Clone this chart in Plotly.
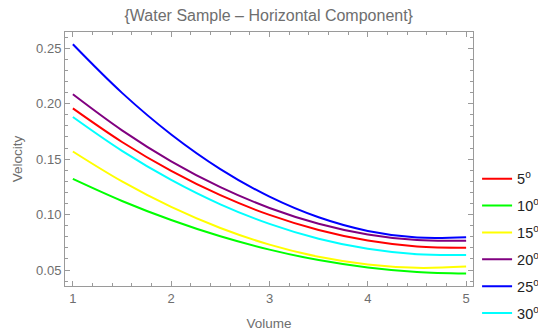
import plotly.graph_objects as go

volume = [1.0, 1.5, 2.0, 2.5, 3.0, 3.5, 4.0, 4.5, 5.0]

v_5 = [0.1958, 0.1655, 0.1394, 0.1175, 0.0997, 0.0861, 0.0766, 0.0713, 0.0702]
v_10 = [0.1322, 0.1123, 0.0951, 0.0804, 0.0684, 0.0590, 0.0523, 0.0482, 0.0468]
v_15 = [0.1569, 0.1299, 0.1069, 0.0879, 0.0729, 0.0619, 0.0550, 0.0520, 0.0531]
v_20 = [0.2085, 0.1760, 0.1481, 0.1248, 0.1060, 0.0918, 0.0821, 0.0770, 0.0765]
v_25 = [0.2536, 0.2098, 0.1723, 0.1411, 0.1162, 0.0976, 0.0853, 0.0793, 0.0795]
v_30 = [0.1880, 0.1575, 0.1313, 0.1093, 0.0916, 0.0782, 0.0691, 0.0642, 0.0636]

labels = ["5<sup>o</sup>", "10<sup>o</sup>", "15<sup>o</sup>", "20<sup>o</sup>", "25<sup>o</sup>", "30<sup>o</sup>"]
series = [v_5, v_10, v_15, v_20, v_25, v_30]
colors = ["#FF0000", "#00FF00", "#FFFF00", "#800080", "#0000FF", "#00FFFF"]

fig = go.Figure()
for i, (lab, ys, c) in enumerate(zip(labels, series, colors)):
    fig.add_trace(go.Scatter(x=volume, y=ys, mode="lines", name=lab,
                             line=dict(color=c, width=2, shape="spline"),
                             legendgroup=f"g{i}"))

W, H = 538, 331
L, R, T, B = 64.5, 65, 32, 45.3
frame = "#9a9a9a"
txt = "#6e6e6e"
FONT = "Liberation Sans, Arial, sans-serif"

common = dict(showgrid=False, zeroline=False, showline=True, linecolor=frame, linewidth=1,
              mirror="allticks", ticks="inside", tickcolor=frame, ticklen=5, tickwidth=1,
              tickfont=dict(family=FONT, size=13, color=txt))

fig.update_layout(
    width=W, height=H,
    margin=dict(l=L, r=R, t=T, b=B, autoexpand=False),
    paper_bgcolor="white", plot_bgcolor="white",
    font=dict(family=FONT, color=txt),
    title=dict(text="{Water Sample – Horizontal Component}", x=(L + (W - R)) / 2 / W, xanchor="center",
               y=1 - 15 / H, yanchor="middle", font=dict(size=16, color=txt, family=FONT)),
    xaxis=dict(range=[0.92, 5.07], tickvals=[1, 2, 3, 4, 5],
               minor=dict(dtick=0.2, tick0=1, ticks="inside", ticklen=3, tickcolor=frame),
               title=dict(text="Volume", font=dict(size=13.5, color=txt, family=FONT), standoff=13),
               **common),
    yaxis=dict(range=[0.0356, 0.2647], tickvals=[0.05, 0.10, 0.15, 0.20, 0.25], tickformat=".2f",
               minor=dict(dtick=0.01, tick0=0, ticks="inside", ticklen=3, tickcolor=frame),
               title=dict(text="Velocity", font=dict(size=13.5, color=txt, family=FONT), standoff=10),
               **common),
    legend=dict(x=1.01, xanchor="left", y=0.485, yanchor="top",
                font=dict(size=14.5, color="#222222", family=FONT),
                tracegroupgap=5, bgcolor="rgba(0,0,0,0)"),
    showlegend=True,
)

fig.write_html("out.html")
